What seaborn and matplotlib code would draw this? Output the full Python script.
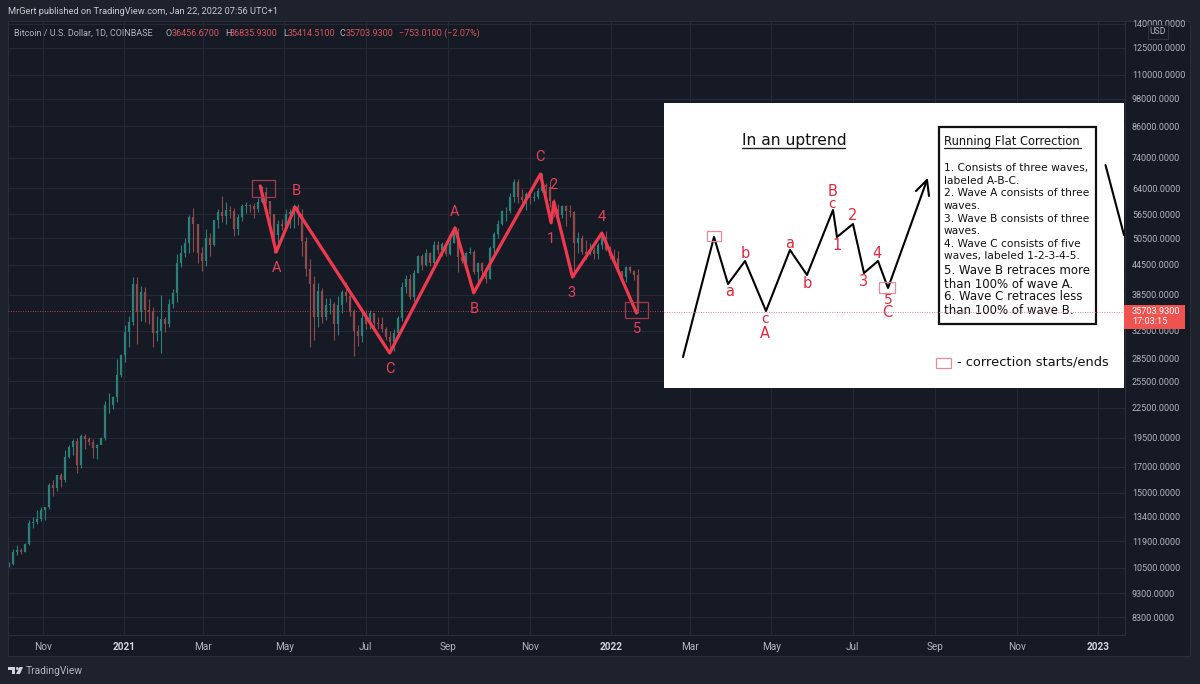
#
# Bitcoin daily chart with a running flat correction drawn over it
#

import matplotlib
matplotlib.use('Agg')
import matplotlib.pyplot as plt
from matplotlib.patches import Rectangle, Polygon, Circle
from matplotlib.ticker import FixedLocator, FixedFormatter, NullLocator
import matplotlib.dates as mdates

import pandas as pd
import seaborn as sns

bar_start = '2020-10-07'

closes = [
    10670, 11300, 11430, 11320, 11750, 12990, 13030, 13270, 13800, 14000,
    15590, 15330, 16300, 15970, 17800, 18680, 19160, 17150, 19700, 19420,
    19150, 18550, 18800, 19450, 22800, 22800, 23730, 26300, 28900, 32200,
    33900, 40600, 35500, 39100, 35800, 35500, 32100, 32500, 34300, 33500,
    36900, 38800, 44800, 47100, 49200, 55900, 54100, 47000, 45200, 50400,
    48900, 54900, 57200, 56000, 57600, 57400, 52800, 55800, 58800, 59000,
    58700, 58100, 60000, 63000, 60300, 56500, 51200, 54000, 53600, 56600,
    57200, 58900, 56700, 49700, 43500, 40600, 34700, 39200, 34600, 36700,
    36800, 33500, 36700, 39000, 38300, 35600, 32500, 31600, 34500, 33500,
    35300, 33700, 33500, 32700, 31500, 30800, 32100, 34500, 40000, 41500,
    38200, 42800, 46300, 44400, 47000, 44800, 48900, 47700, 49000, 46900,
    49300, 51800, 46100, 45200, 47100, 47300, 43000, 44900, 43200, 41500,
    48200, 51500, 53900, 57400, 57400, 61500, 66000, 61300, 60400, 62300,
    61000, 61400, 63300, 64900, 64400, 60100, 58100, 56300, 58900, 57300,
    57200, 49400, 50600, 47200, 46700, 47700, 46700, 48900, 50800, 47600,
    46300, 46000, 43100, 41900, 43900, 43100, 42300, 35704]

highs = [
    10800, 11500, 11720, 11550, 11820, 13200, 13350, 13800, 14000, 14050,
    15700, 15950, 16350, 16480, 18400, 18800, 19400, 19480, 19850, 19850,
    19600, 19400, 18950, 19550, 23250, 24100, 23800, 28400, 29000, 33300,
    34800, 41900, 41900, 40100, 40000, 37800, 36400, 34800, 38500, 34700,
    37700, 39700, 46800, 48800, 50500, 56300, 58300, 52600, 48300, 52600,
    51800, 55000, 58100, 61700, 60000, 58700, 58400, 56600, 59300, 60000,
    59500, 59800, 61200, 64800, 64500, 57500, 56200, 55000, 55400, 57900,
    57900, 59500, 59500, 58000, 50700, 45800, 42200, 40800, 39800, 37900,
    37900, 37300, 38300, 39400, 40900, 39500, 36000, 33300, 35500, 35900,
    35900, 35100, 34600, 34600, 33000, 32500, 32800, 34900, 40900, 42300,
    42600, 43400, 46500, 46700, 48000, 47200, 49700, 49800, 49600, 49600,
    50400, 51900, 52900, 46900, 47300, 48400, 47800, 45000, 45100, 44000,
    48500, 51900, 54900, 57800, 58500, 62600, 66900, 66900, 63700, 62900,
    62400, 63000, 64200, 68800, 65500, 66300, 60800, 59300, 59200, 59000,
    59000, 57500, 51900, 51200, 50100, 49400, 48400, 49300, 51900, 52100,
    48500, 47900, 47500, 43100, 44300, 44300, 43400, 43500]

lows = [
    10520, 10650, 11170, 11200, 11300, 11700, 12700, 12900, 13100, 13200,
    13900, 14800, 15100, 15450, 15800, 17700, 18000, 16500, 16900, 18500,
    18800, 17700, 17600, 18900, 19300, 21900, 22400, 23100, 26000, 28000,
    30000, 33400, 30500, 34000, 33900, 33500, 30000, 30900, 29200, 32300,
    33000, 36200, 37300, 44000, 46200, 47000, 47200, 44900, 43100, 44100,
    46300, 48700, 53000, 54500, 54100, 55500, 51000, 51300, 54800, 57000,
    57200, 55500, 57200, 59800, 59600, 54300, 47100, 48900, 52400, 52900,
    53000, 52900, 53800, 46300, 42200, 30000, 31100, 33000, 33700, 34200,
    35100, 31100, 31800, 35300, 37200, 34800, 28800, 30200, 30800, 32700,
    32700, 33000, 32800, 32300, 31100, 29300, 29500, 32200, 34000, 38800,
    37700, 37400, 42800, 43400, 44100, 44300, 44400, 46700, 46400, 46400,
    46600, 49200, 42900, 44800, 44700, 46800, 42500, 40200, 42100, 40800,
    41600, 47100, 50400, 53700, 54700, 57000, 60000, 59700, 59900, 57800,
    59500, 60100, 60700, 62800, 62300, 58600, 55700, 55600, 55600, 53500,
    55900, 42000, 47100, 46900, 45700, 46600, 45600, 45800, 48000, 47400,
    45700, 45700, 42500, 40800, 41000, 42700, 41300, 35400]

wave_dates = ['2021-04-13', '2021-04-25', '2021-05-09', '2021-07-19',
              '2021-09-06', '2021-09-20', '2021-11-09', '2021-11-17',
              '2021-11-19', '2021-12-03', '2021-12-25', '2022-01-20']
wave_prices = [64700, 47250, 58500, 29200, 53000, 38900, 68500, 54300,
               60000, 41950, 51700, 35340]

price_ticks = [140000, 125000, 110000, 98000, 86000, 74000, 64000, 56500,
               50500, 44500, 38500, 32500, 28500, 25500, 22500, 19500, 17000,
               15000, 13400, 11900, 10500, 9300, 8300]
month_ticks = ['2020-11-01', '2021-01-01', '2021-03-01', '2021-05-01',
               '2021-07-01', '2021-09-01', '2021-11-01', '2022-01-01',
               '2022-03-01', '2022-05-01', '2022-07-01', '2022-09-01',
               '2022-11-01', '2023-01-01']
month_labels = ['Nov', '2021', 'Mar', 'May', 'Jul', 'Sep', 'Nov', '2022',
                'Mar', 'May', 'Jul', 'Sep', 'Nov', '2023']

# idealised pattern on the white card, in picture pixels
sketch_x = [683, 714, 728, 745, 766, 790, 807, 833, 837, 853, 864, 878, 888, 927]
sketch_y = [357, 237, 284, 261, 311, 250, 275, 210, 237, 224, 273, 261, 288, 180]

rules = [
    ('1. Consists of three waves,', 168, 7.7),
    ('labeled A-B-C.', 181, 7.7),
    ('2. Wave A consists of three', 193, 7.7),
    ('waves.', 206, 7.7),
    ('3. Wave B consists of three', 219, 7.7),
    ('waves.', 231, 7.7),
    ('4. Wave C consists of five', 244, 7.7),
    ('waves, labeled 1-2-3-4-5.', 256, 7.7),
    ('5. Wave B retraces more', 270, 8.5),
    ('than 100% of wave A.', 284, 8.5),
    ('6. Wave C retraces less', 297, 8.5),
    ('than 100% of wave B.', 311, 8.5),
]

BG = '#161a25'
FRAME = '#1e222d'
GRID = '#262a36'
TEXT = '#b2b5be'
RED = '#f0394f'
LABEL_RED = '#e5405a'
CARD_RED = '#e0283c'
VALUE_RED = '#d9555c'
BOX_RED = '#a83a50'
UP = '#2b8079'
DOWN = '#8c4a4c'


def draw_chart(ax):
    dates = pd.date_range(bar_start, periods=len(closes), freq='3D')
    bars = pd.DataFrame({'date': dates, 'close': closes, 'high': highs, 'low': lows})
    bars['open'] = bars.close.shift(1).fillna(10600)
    bars['color'] = [UP if c >= o else DOWN for c, o in zip(bars.close, bars.open)]

    ax.vlines(bars.date, bars.low, bars.high, colors=bars.color, lw=0.8, zorder=2)
    ax.vlines(bars.date, bars.open, bars.close, colors=bars.color, lw=1.6, zorder=2)

    sns.lineplot(x=pd.to_datetime(wave_dates), y=wave_prices, sort=False,
                 estimator=None, color=RED, lw=2.3, ax=ax, zorder=4)
    ax.axhline(closes[-1], color='#a8444f', lw=0.7, ls=(0, (1, 1.5)), zorder=3)

    ax.set_yscale('log')
    ax.set_ylim(7620, 142000)
    ax.set_xlim(pd.Timestamp('2020-10-06'), pd.Timestamp('2023-01-21'))
    ax.set_xlabel('')
    ax.set_ylabel('')

    ax.yaxis.set_major_locator(FixedLocator(price_ticks))
    ax.yaxis.set_major_formatter(FixedFormatter(['%d.0000' % p for p in price_ticks]))
    ax.yaxis.set_minor_locator(NullLocator())
    ax.yaxis.tick_right()
    ax.xaxis.set_major_locator(FixedLocator(mdates.date2num(pd.to_datetime(month_ticks))))
    ax.xaxis.set_major_formatter(FixedFormatter(month_labels))
    ax.tick_params(axis='y', length=0, colors=TEXT, labelsize=6.5, pad=5)
    ax.tick_params(axis='x', length=0, colors=TEXT, labelsize=7.2, pad=5)
    for label in ax.get_xticklabels():
        if label.get_text().startswith('20'):
            label.set_fontweight('bold')
            label.set_color('#d1d4dc')
    ax.grid(True, color=GRID, lw=0.7)
    for side in ax.spines.values():
        side.set_color('#2a2e39')
        side.set_linewidth(0.8)


def draw_annotations(over):
    # wave labels on the price chart
    for s, x, y in [('A', 277, 268), ('B', 296, 191), ('C', 390, 369),
                    ('A', 455, 212), ('B', 474, 309), ('C', 540, 157),
                    ('2', 553, 185), ('1', 551, 239), ('3', 572, 293),
                    ('4', 602, 217), ('5', 637, 329)]:
        over.text(x, y, s, color=LABEL_RED, fontsize=10.5, ha='center', va='center')
    for x, y, w, h in [(252, 180, 23, 17), (625, 302, 23, 16)]:
        over.add_patch(Rectangle((x, y), w, h, fill=False, ec=BOX_RED, lw=0.9))

    # header
    over.text(8, 12, 'MrGert published on TradingView.com, Jan 22, 2022 07:56 UTC+1',
              color='#c8cad0', fontsize=6.7, va='center')
    over.text(14, 33, 'Bitcoin / U.S. Dollar, 1D, COINBASE', color=TEXT, fontsize=6.5, va='center')
    for s, x, c in [('O', 166, TEXT), ('36456.6700', 172, VALUE_RED),
                    ('H', 225, TEXT), ('36835.9300', 230, VALUE_RED),
                    ('L', 283, TEXT), ('35414.5100', 288, VALUE_RED),
                    ('C', 340, TEXT), ('35703.9300', 346, VALUE_RED),
                    ('\u2212753.0100 (\u22122.07%)', 399, VALUE_RED)]:
        over.text(x, 33, s, color=c, fontsize=6.5, va='center')

    # USD badge and last price tag
    over.add_patch(Rectangle((1148, 25), 20, 14, fc=BG, ec='#363a45', lw=0.6))
    over.text(1158, 32, 'USD', color=TEXT, fontsize=6.2, ha='center', va='center')
    over.add_patch(Rectangle((1124, 305), 61, 24, fc='#ef5350', ec='none', zorder=6))
    over.text(1132, 312, '35703.9300', color='white', fontsize=6.6, va='center', zorder=7)
    over.text(1132, 322, '17:03:15', color='white', fontsize=6.6, va='center', zorder=7)

    # logo
    over.add_patch(Polygon([(8, 667), (15, 667), (15, 674), (11.5, 674), (11.5, 669.5), (8, 669.5)],
                           fc='#d1d4dc', ec='none'))
    over.add_patch(Circle((17.3, 668.5), 1.4, fc='#d1d4dc', ec='none'))
    over.add_patch(Polygon([(19.5, 667), (23, 667), (20, 674), (16, 674)], fc='#d1d4dc', ec='none'))
    over.text(26, 671, 'TradingView', color=TEXT, fontsize=7.4, va='center')


def draw_card(over):
    over.add_patch(Rectangle((664, 103), 460, 285, fc='white', ec='none', zorder=2))

    sns.lineplot(x=sketch_x, y=sketch_y, sort=False, estimator=None, color='black',
                 lw=1.5, ax=over, zorder=3)
    over.plot([916, 927, 929], [191, 180, 196], color='black', lw=1.5, zorder=3)
    over.plot([1105.5, 1124], [165, 235], color='black', lw=1.5, zorder=3)

    for s, x, y, size in [('B', 833, 191, 10.5), ('c', 832, 204.5, 9.8), ('a', 790, 243, 10.5),
                          ('b', 745, 253, 10.5), ('a', 730, 292, 10.5), ('c', 765, 319, 10),
                          ('A', 765, 333, 10.5), ('b', 807, 283, 10.5), ('1', 837, 246, 10.5),
                          ('2', 853, 215, 10.5), ('3', 864, 282, 10.5), ('4', 877, 253, 10.5),
                          ('5', 888, 299.5, 10), ('C', 887, 312.5, 10.5)]:
        over.text(x, y, s, color=CARD_RED, fontsize=size, ha='center', va='center', zorder=4)
    for x, y, w, h in [(707, 231, 14, 10), (879, 282, 16, 11), (936, 358, 15, 10)]:
        over.add_patch(Rectangle((x, y), w, h, fill=False, ec='#e88a98', lw=0.9, zorder=4))

    over.text(742, 140, 'In an uptrend', color='#111111', fontsize=11.2, va='center', zorder=4)
    over.plot([742, 845], [147.5, 147.5], color='#222222', lw=1, zorder=4)

    over.add_patch(Rectangle((939, 127), 157, 197, fc='white', ec='#111111', lw=1.6, zorder=3))
    over.text(944, 141, 'Running Flat Correction', color='#111111', fontsize=8.3, va='center', zorder=4)
    over.plot([944, 1081], [147.5, 147.5], color='#222222', lw=0.9, zorder=4)
    for s, y, size in rules:
        over.text(944, y, s, color='#111111', fontsize=size, va='center', zorder=4)
    over.text(957, 362, '- correction starts/ends', color='#111111', fontsize=9.4, va='center', zorder=4)

    # last price line runs on over the card
    over.plot([664, 1124], [311.5, 311.5], color='#e8818f', lw=0.7, ls=(0, (1, 1.5)), zorder=5)


def main():
    sns.set_theme(style='darkgrid', rc={'axes.facecolor': BG, 'figure.facecolor': FRAME})
    plt.rcParams['font.family'] = ['Roboto', 'DejaVu Sans']

    fig = plt.figure(figsize=(12, 6.84), dpi=100)
    # darker pane behind the price and time scales
    fig.add_artist(Rectangle((8 / 1200, 1 - 656 / 684), 1182 / 1200, 635 / 684, fc=BG,
                             ec='#2a2e39', lw=0.8, transform=fig.transFigure, zorder=-1))
    ax = fig.add_axes([8 / 1200, 1 - 635 / 684, (1125 - 8) / 1200, (635 - 21) / 684])
    draw_chart(ax)

    over = fig.add_axes([0, 0, 1, 1], zorder=5)
    over.set_xlim(0, 1200)
    over.set_ylim(684, 0)
    over.axis('off')
    over.patch.set_alpha(0)
    draw_annotations(over)

    draw_card(over)
    for t in over.texts:
        if t.get_zorder() == 4:
            t.set_family('DejaVu Sans')

    fig.savefig('out.png', dpi=100)
    plt.close(fig)


if __name__ == '__main__':
    main()
